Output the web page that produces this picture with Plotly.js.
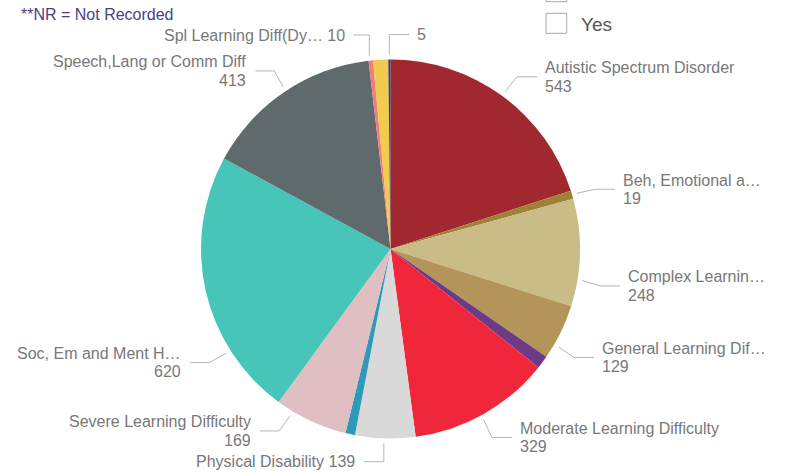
<!DOCTYPE html>
<html>
<head>
<meta charset="utf-8">
<script src="https://cdn.plot.ly/plotly-3.0.1.min.js"></script>
<style>html,body{margin:0;padding:0;background:#fff;}#chart{width:787px;height:475px;}</style>
</head>
<body>
<div id="chart"></div>
<script>
// ---- data ----
const categories = ['Autistic Spectrum Disorder','Beh, Emotional and Social Difficulty','Complex Learning Difficulty','General Learning Difficulty','Hearing Impairment','Moderate Learning Difficulty','Physical Disability','Profound & Multiple Learning Difficulty','Severe Learning Difficulty','Soc, Em and Ment Health','Speech,Lang or Comm Diff','Spl Learning Diff(Dyslexia)','Visual Impairment','Not Recorded'];
const values = [543, 19, 248, 129, 30, 329, 139, 22, 169, 620, 413, 10, 35, 5];
const shownNames = ['Autistic Spectrum Disorder','Beh, Emotional a…','Complex Learnin…','General Learning Dif…','','Moderate Learning Difficulty','Physical Disability','','Severe Learning Difficulty','Soc, Em and Ment H…','Speech,Lang or Comm Diff','Spl Learning Diff(Dy…','',''];
const colors = ['#A1282F','#9E8235','#C9BC86','#B3955A','#6C3B86','#F0263A','#D9D9D9','#2E9AB8','#DFBFC1','#47C5B8','#5F6A6C','#F27C7C','#F2CB4E','#3B3A6E'];
const noteText = '**NR = Not Recorded';
const slicerItems = ['No','Yes'];

// ---- layout constants ----
const W = 787, H = 475;
const cx = 390.5, cy = 249, R = 189.5;
const px = x => x / W, py = y => 1 - y / H;
const labelFont = {family: 'Liberation Sans, Arial, sans-serif', size: 16, color: '#787878'};
const lineColor = '#B5B5B5';

// label placement: side, kind, text anchor x, first line y, attach fraction within slice
const labelPlace = {
  0:  {side: 'r', kind: 'elbow', x: 543, y: 67.5, f: 0.5},
  1:  {side: 'r', kind: 'elbow', x: 621, y: 180, f: 0.5},
  2:  {side: 'r', kind: 'elbow', x: 626, y: 276.7, f: 0.75},
  3:  {side: 'r', kind: 'elbow', x: 600, y: 348.3, f: 0.74},
  5:  {side: 'r', kind: 'elbow', x: 518, y: 428.3, f: 0.52},
  6:  {side: 'l', kind: 'down',  x: 357, y: 461.7, f: 0.52},
  8:  {side: 'l', kind: 'elbow', x: 253, y: 421.7, f: 0.77},
  9:  {side: 'l', kind: 'elbow', x: 183.3, y: 353.3, f: 0.26},
  10: {side: 'l', kind: 'elbow', x: 248.3, y: 61.7, f: 0.51},
  11: {side: 'l', kind: 'up',    x: 346.7, y: 35, f: 0.3},
  13: {side: 'r', kind: 'up',    x: 415, y: 34.5, f: 0.5}
};

const total = values.reduce((a, b) => a + b, 0);
let cum = 0;
const annotations = [], shapes = [];
values.forEach((v, i) => {
  const a0 = 360 * cum / total; cum += v;
  const a1 = 360 * cum / total;
  const p = labelPlace[i];
  if (!p) return;
  const ang = (a0 + p.f * (a1 - a0)) * Math.PI / 180;
  const sx = cx + (R + 5) * Math.sin(ang), sy = cy - (R + 5) * Math.cos(ang);
  const name = shownNames[i];
  const lineH = 18.5;
  let path;
  if (p.kind === 'elbow') {
    const my = p.y + lineH / 2;
    const ex = p.side === 'r' ? p.x - 6 : p.x + 7;
    const kx = p.side === 'r' ? p.x - 26 : p.x + 26;
    path = `M${px(sx)},${py(sy)} L${px(kx)},${py(my)} L${px(ex)},${py(my)}`;
    annotations.push({xref: 'paper', yref: 'paper', x: px(p.x), y: py(p.y), text: name, showarrow: false,
      xanchor: p.side === 'r' ? 'left' : 'right', yanchor: 'middle', font: labelFont});
    annotations.push({xref: 'paper', yref: 'paper', x: px(p.x), y: py(p.y + lineH), text: String(v), showarrow: false,
      xanchor: p.side === 'r' ? 'left' : 'right', yanchor: 'middle', font: labelFont});
  } else {
    const ex = p.side === 'r' ? p.x - 6 : p.x + 7;
    path = `M${px(sx)},${py(sy)} L${px(sx)},${py(p.y)} L${px(ex)},${py(p.y)}`;
    annotations.push({xref: 'paper', yref: 'paper', x: px(p.x), y: py(p.y), text: (name ? name + ' ' : '') + v, showarrow: false,
      xanchor: p.side === 'r' ? 'left' : 'right', yanchor: 'middle', font: labelFont});
  }
  shapes.push({type: 'path', xref: 'paper', yref: 'paper', path: path, line: {color: lineColor, width: 1}});
});

// note text
annotations.push({xref: 'paper', yref: 'paper', x: px(19), y: py(14), text: noteText, showarrow: false,
  xanchor: 'left', yanchor: 'middle', font: {family: 'Liberation Sans, Arial, sans-serif', size: 16, color: '#4A3E86'}});

// slicer checkboxes (partially cut at top)
const boxTop = [-18.3, 13.3];
slicerItems.forEach((t, k) => {
  shapes.push({type: 'rect', xref: 'paper', yref: 'paper', x0: px(546), x1: px(566.7), y0: py(boxTop[k]), y1: py(boxTop[k] + 20),
    line: {color: '#A8A8A8', width: 1}, fillcolor: 'rgba(0,0,0,0)'});
  annotations.push({xref: 'paper', yref: 'paper', x: px(579), y: py(boxTop[k] + 11), text: t, showarrow: false,
    xanchor: 'left', yanchor: 'middle', font: {family: 'Liberation Sans, Arial, sans-serif', size: 19, color: '#555555'}});
});

const trace = {
  type: 'pie',
  labels: categories,
  values: values,
  sort: false,
  direction: 'clockwise',
  rotation: 0,
  textinfo: 'none',
  hoverinfo: 'none',
  showlegend: false,
  marker: {colors: colors, line: {width: 0}},
  domain: {x: [px(cx - R), px(cx + R)], y: [py(cy + R), py(cy - R)]}
};

Plotly.newPlot('chart', [trace], {
  width: W, height: H,
  margin: {l: 0, r: 0, t: 0, b: 0},
  paper_bgcolor: '#ffffff',
  showlegend: false,
  annotations: annotations,
  shapes: shapes
}, {displayModeBar: false, staticPlot: true});
</script>
</body>
</html>
